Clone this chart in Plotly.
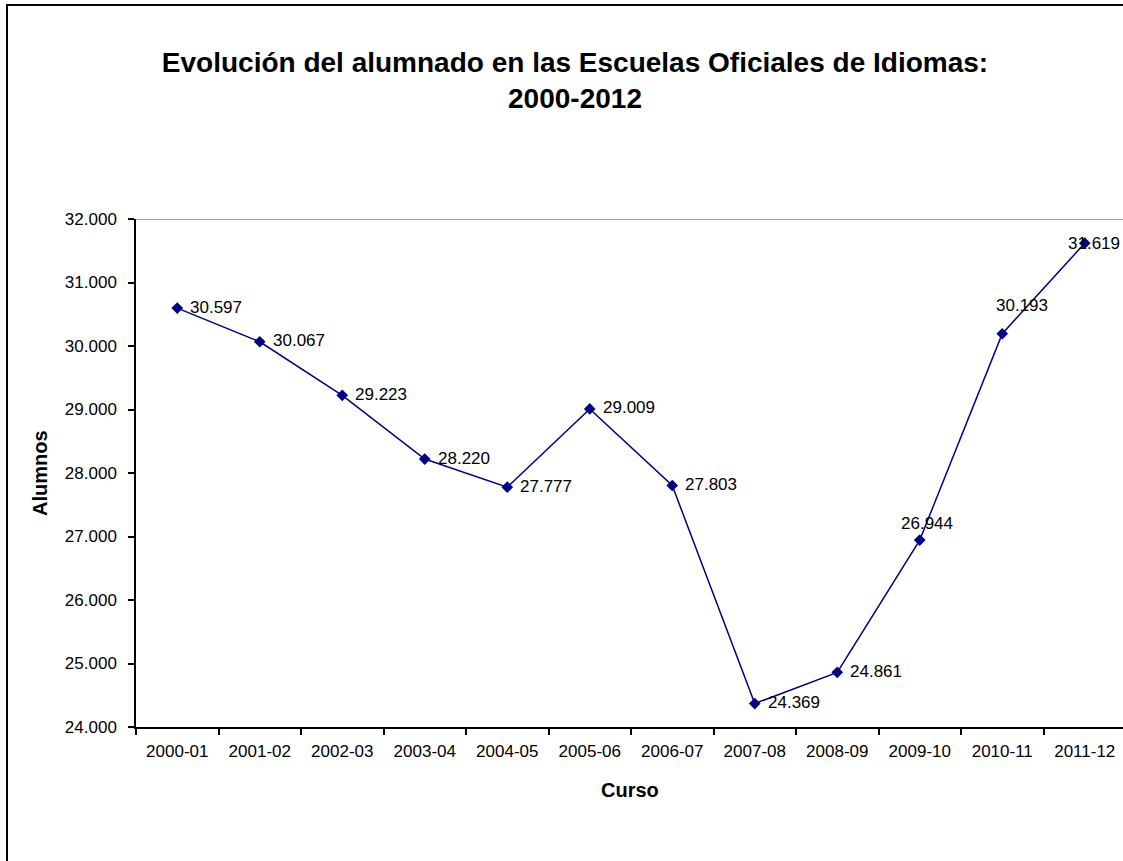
import plotly.graph_objects as go

cursos = ["2000-01", "2001-02", "2002-03", "2003-04", "2004-05", "2005-06",
          "2006-07", "2007-08", "2008-09", "2009-10", "2010-11", "2011-12"]
alumnos = [30597, 30067, 29223, 28220, 27777, 29009,
           27803, 24369, 24861, 26944, 30193, 31619]

title_text = "<b>Evolución del alumnado en las Escuelas Oficiales de Idiomas:<br>2000-2012</b>"
ytitle = "Alumnos"
xtitle = "Curso"

W, H = 1123, 861
L, R, T, B = 136, 0, 219, 134
pw = W - L - R
ph = H - T - B
cat_px = 82.5
FONT = "Liberation Sans, Arial, sans-serif"
NAVY = "#000080"
FS = 17

def fmt(v):
    return f"{v:,}".replace(",", ".")

fig = go.Figure()
fig.add_trace(go.Scatter(
    x=cursos, y=alumnos, mode="lines+markers",
    line=dict(color=NAVY, width=1.5),
    marker=dict(symbol="diamond", size=9, color=NAVY),
    hoverinfo="x+y", showlegend=False,
))

# label offsets (style only)
label_style = {i: dict(xanchor="left", xshift=11, yshift=1) for i in range(len(cursos))}
label_style[9] = dict(xanchor="center", xshift=7, yshift=17)
label_style[10] = dict(xanchor="center", xshift=20, yshift=28)
label_style[11] = dict(xanchor="center", xshift=9, yshift=0)

annotations = []
for i, (c, v) in enumerate(zip(cursos, alumnos)):
    st = label_style[i]
    annotations.append(dict(
        x=c, y=v, xref="x", yref="y", text=fmt(v), showarrow=False,
        xanchor=st["xanchor"], yanchor="middle", xshift=st["xshift"], yshift=st["yshift"],
        font=dict(family=FONT, size=FS, color="black"),
    ))

annotations.append(dict(
    x=0, y=0.5, xref="paper", yref="paper", text=f"<b>{ytitle}</b>", showarrow=False,
    textangle=-90, xanchor="center", yanchor="middle", xshift=40 - L,
    font=dict(family=FONT, size=20, color="black"),
))
annotations.append(dict(
    x=(629.5 - L) / pw, y=0, xref="paper", yref="paper", text=f"<b>{xtitle}</b>", showarrow=False,
    xanchor="center", yanchor="middle", yshift=-(790 - (H - B)),
    font=dict(family=FONT, size=20, color="black"),
))

shapes = [
    # top gridline of plot area
    dict(type="line", xref="paper", yref="y", x0=0, x1=1, y0=32000, y1=32000,
         line=dict(color="#808080", width=1.5)),
    # outer chart frame
    dict(type="rect", xref="paper", yref="paper",
         x0=(7 - L) / pw, x1=(W + 20 - L) / pw,
         y0=((H - B) - (H + 20)) / ph, y1=((H - B) - 5) / ph,
         line=dict(color="black", width=2), fillcolor="rgba(0,0,0,0)", layer="below"),
]

right_edge = (len(cursos) - 0.5) - (L + len(cursos) * cat_px - (W - R)) / cat_px

fig.update_layout(
    width=W, height=H,
    margin=dict(l=L, r=R, t=T, b=B, pad=0),
    paper_bgcolor="white", plot_bgcolor="white",
    separators=",.",
    title=dict(text=title_text, xref="container", yref="container",
               x=575 / W, y=1 - 72 / H, xanchor="center", yanchor="middle",
               font=dict(family=FONT, size=28, color="black")),
    font=dict(family=FONT, size=FS, color="black"),
    xaxis=dict(
        type="category", range=[-0.5, right_edge], tickson="boundaries",
        showgrid=False, zeroline=False, showline=True, linecolor="black", linewidth=1.5,
        ticks="outside", ticklen=6, tickcolor="black", tickwidth=1.5,
        ticklabelstandoff=8,
        tickfont=dict(family=FONT, size=FS, color="black"),
    ),
    yaxis=dict(
        range=[24000, 32000], dtick=1000, tickformat=",.0f",
        showgrid=False, zeroline=False, showline=True, linecolor="black", linewidth=1.5,
        ticks="outside", ticklen=6, tickcolor="black", tickwidth=1.5,
        ticklabelstandoff=8,
        tickfont=dict(family=FONT, size=FS, color="black"),
    ),
    annotations=annotations,
    shapes=shapes,
)

fig.write_html("out.html", config={"displayModeBar": False},
               post_script="document.body.style.margin='0';document.body.style.overflow='hidden';")
